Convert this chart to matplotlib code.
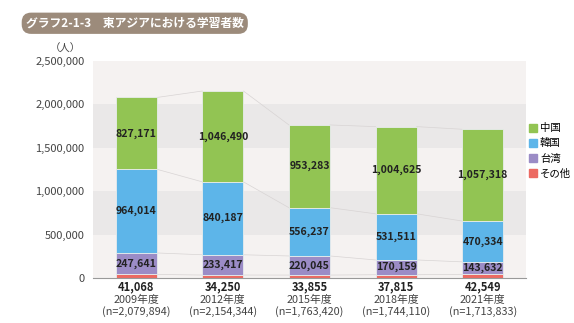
import matplotlib
matplotlib.use('Agg')
from matplotlib import pyplot as plt
from matplotlib.patches import Patch
import numpy as np

plt.rcParams['font.family'] = ['Noto Sans CJK JP', 'DejaVu Sans']

years = ['2009年度', '2012年度', '2015年度', '2018年度', '2021年度']
totals = ['2,079,894', '2,154,344', '1,763,420', '1,744,110', '1,713,833']
other = [41068, 34250, 33855, 37815, 42549]
taiwan = [247641, 233417, 220045, 170159, 143632]
korea = [964014, 840187, 556237, 531511, 470334]
china = [827171, 1046490, 953283, 1004625, 1057318]

col_other = '#ec6a62'
col_taiwan = '#9b8cc6'
col_korea = '#5db5e9'
col_china = '#92c453'

fig = plt.figure(figsize=(5.74, 3.23), dpi=100)
ax = fig.add_axes([0.162, 0.1393, 0.7544, 0.6718])

# background bands
for k in range(5):
    c = '#eae8e8' if k % 2 == 1 else '#f5f2f1'
    ax.axhspan(k * 500000, (k + 1) * 500000, color=c, lw=0, zorder=0)

x = np.arange(len(years))
w = 0.475
series = [(other, col_other), (taiwan, col_taiwan), (korea, col_korea), (china, col_china)]
bottom = np.zeros(len(years))
tops = []
for vals, col in series:
    vals = np.array(vals, dtype=float)
    ax.bar(x, vals, w, bottom=bottom, color=col, edgecolor='#e8ecec', linewidth=0.6, zorder=3)
    bottom = bottom + vals
    tops.append(bottom.copy())

# connector lines between bars
for t in tops:
    for i in range(len(x) - 1):
        ax.plot([x[i] + w / 2, x[i + 1] - w / 2], [t[i], t[i + 1]],
                color='#d8d4d4', lw=0.5, zorder=2)

# value labels
bottom = np.zeros(len(years))
for si, (vals, col) in enumerate(series):
    for i, v in enumerate(vals):
        if si == 0:
            ax.text(x[i], -22000, f'{v:,}', ha='center', va='top', fontsize=8,
                    fontweight='bold', color='#222222')
        else:
            ax.text(x[i], bottom[i] + v / 2, f'{v:,}', ha='center', va='center',
                    fontsize=7.6, fontweight='bold', color='#222222', zorder=4)
    bottom = bottom + np.array(vals)

ax.set_xlim(-0.5, 4.5)
ax.set_ylim(0, 2500000)
ax.set_yticks(np.arange(0, 2500001, 500000))
ax.set_yticklabels([f'{int(v):,}' for v in np.arange(0, 2500001, 500000)],
                   fontsize=8, color='#444444')
ax.tick_params(axis='y', length=0, pad=6)
ax.tick_params(axis='x', length=0)
ax.set_xticks([])
for s in ['top', 'right', 'left']:
    ax.spines[s].set_visible(False)
ax.spines['bottom'].set_color('#999999')
ax.spines['bottom'].set_linewidth(0.8)
ax.spines['bottom'].set_zorder(5)

for i in range(len(years)):
    ax.text(x[i], -195000, years[i], ha='center', va='top', fontsize=7.8, color='#444444')
    ax.text(x[i], -325000, f'(n={totals[i]})', ha='center', va='top', fontsize=7.8,
            color='#444444')

fig.text(0.113, 0.85, '（人）', ha='center', va='center', fontsize=7.5, color='#444444')

fig.text(0.045, 0.928, 'グラフ2-1-3　東アジアにおける学習者数', ha='left', va='center',
         fontsize=8.5, fontweight='bold', color='white',
         bbox=dict(boxstyle='round,pad=0.35,rounding_size=0.8', fc='#9c8b7b', ec='none'))

handles = [Patch(color=col_china, label='中国'), Patch(color=col_korea, label='韓国'),
           Patch(color=col_taiwan, label='台湾'), Patch(color=col_other, label='その他')]
fig.legend(handles=handles, loc='upper left', bbox_to_anchor=(0.918, 0.625), frameon=False,
           fontsize=7.5, handlelength=0.8, handleheight=0.8, handletextpad=0.25,
           labelspacing=0.5, borderaxespad=0, borderpad=0.2)

fig.savefig('out.png', dpi=100)
